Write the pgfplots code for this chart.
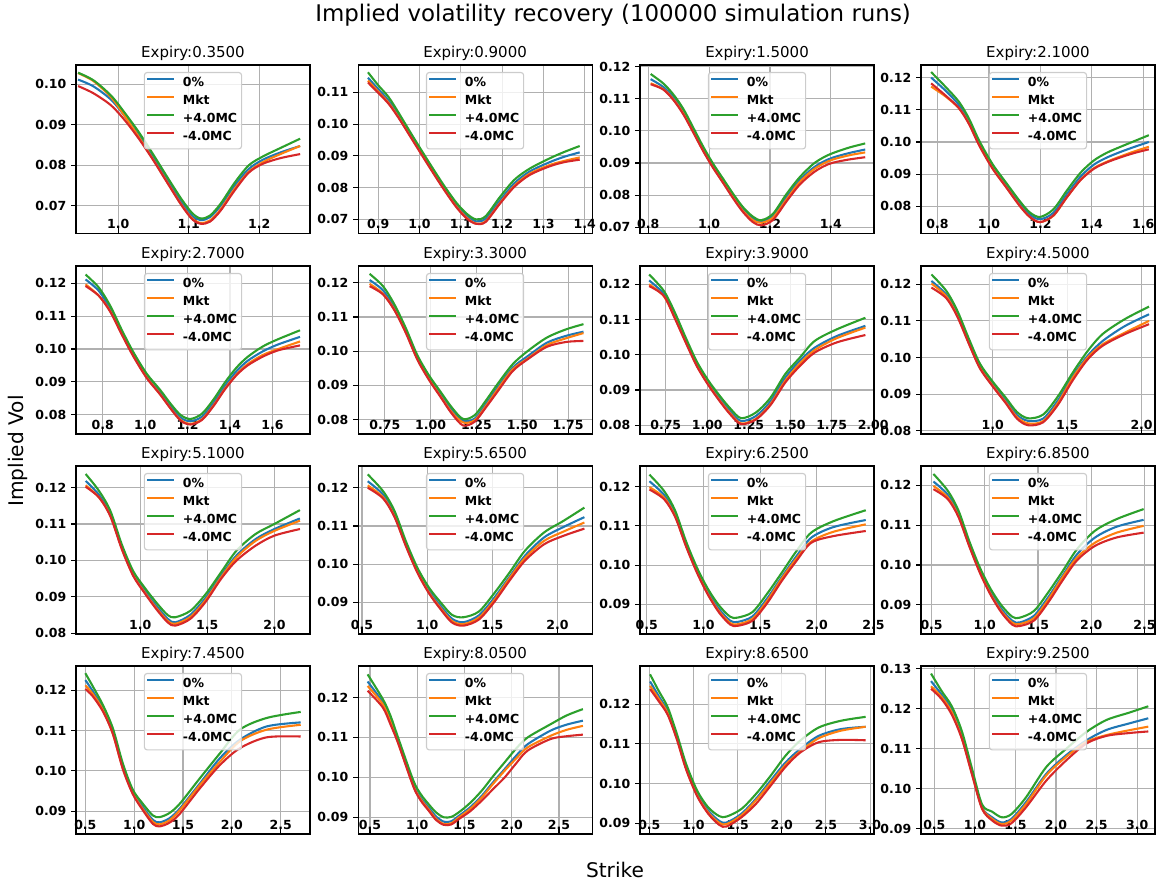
\documentclass[border=0pt]{standalone}
\usepackage{fontspec}
\setmainfont{DejaVu Sans}
\usepackage{pgfplots}
\usepackage{pgfplotstable}
\pgfplotsset{compat=1.18}

\definecolor{c0}{HTML}{1F77B4}
\definecolor{c1}{HTML}{FF7F0E}
\definecolor{c2}{HTML}{2CA02C}
\definecolor{c3}{HTML}{D62728}
\definecolor{gridgray}{HTML}{B0B0B0}
\definecolor{legframe}{HTML}{CCCCCC}

\newcommand\tickfont{\fontsize{9}{10}\selectfont\bfseries}
\newcommand\legfont{\fontsize{9}{10}\selectfont\bfseries}
\newcommand\titlefont{\fontsize{10.8}{12}\selectfont}

% columns: strike, 0% (b), Mkt (o), +4.0MC (g), -4.0MC (r)
\pgfplotstableread{
x b o g r
0.943 0.1012 0.1028 0.1029 0.0996
0.965 0.0995 0.1008 0.1010 0.0978
0.990 0.0962 0.0968 0.0972 0.0948
1.010 0.0920 0.0920 0.0928 0.0910
1.030 0.0872 0.0868 0.0880 0.0864
1.050 0.0818 0.0813 0.0826 0.0812
1.070 0.0762 0.0757 0.0770 0.0756
1.090 0.0708 0.0702 0.0716 0.0701
1.105 0.0675 0.0669 0.0682 0.0667
1.117 0.0665 0.0658 0.0669 0.0656
1.130 0.0672 0.0664 0.0676 0.0661
1.145 0.0700 0.0691 0.0705 0.0688
1.165 0.0750 0.0742 0.0757 0.0738
1.185 0.0791 0.0784 0.0800 0.0782
1.205 0.0814 0.0808 0.0822 0.0804
1.230 0.0832 0.0828 0.0843 0.0818
1.258 0.0848 0.0848 0.0866 0.0828
}\tA
\pgfplotstableread{
x b o g r
0.875 0.1146 0.1137 0.1163 0.1131
0.900 0.1110 0.1102 0.1122 0.1098
0.925 0.1074 0.1067 0.1085 0.1064
0.950 0.1026 0.1020 0.1034 0.1018
0.975 0.0973 0.0968 0.0980 0.0966
1.000 0.0920 0.0916 0.0927 0.0914
1.030 0.0858 0.0854 0.0865 0.0852
1.060 0.0798 0.0794 0.0805 0.0792
1.090 0.0744 0.0739 0.0751 0.0737
1.115 0.0710 0.0704 0.0717 0.0702
1.137 0.0694 0.0687 0.0700 0.0686
1.160 0.0702 0.0694 0.0710 0.0692
1.195 0.0760 0.0752 0.0771 0.0750
1.230 0.0814 0.0806 0.0825 0.0803
1.267 0.0851 0.0844 0.0860 0.0840
1.315 0.0880 0.0871 0.0892 0.0867
1.350 0.0897 0.0884 0.0912 0.0880
1.388 0.0911 0.0895 0.0931 0.0888
}\tB
\pgfplotstableread{
x b o g r
0.808 0.1161 0.1148 0.1177 0.1145
0.849 0.1137 0.1130 0.1148 0.1129
0.882 0.1106 0.1099 0.1114 0.1097
0.915 0.1060 0.1055 0.1069 0.1052
0.948 0.1001 0.0997 0.1010 0.0995
0.980 0.0944 0.0940 0.0952 0.0938
1.013 0.0891 0.0887 0.0898 0.0885
1.046 0.0844 0.0840 0.0851 0.0838
1.079 0.0797 0.0793 0.0804 0.0790
1.111 0.0756 0.0751 0.0763 0.0748
1.144 0.0727 0.0722 0.0733 0.0716
1.172 0.0719 0.0714 0.0722 0.0706
1.210 0.0735 0.0730 0.0742 0.0723
1.254 0.0793 0.0786 0.0803 0.0780
1.297 0.0846 0.0840 0.0855 0.0832
1.341 0.0884 0.0878 0.0896 0.0869
1.375 0.0904 0.0898 0.0917 0.0889
1.407 0.0917 0.0911 0.0931 0.0901
1.460 0.0931 0.0924 0.0948 0.0911
1.513 0.0942 0.0933 0.0961 0.0918
}\tC
\pgfplotstableread{
x b o g r
0.775 0.1200 0.1172 0.1217 0.1182
0.830 0.1160 0.1142 0.1172 0.1145
0.883 0.1115 0.1105 0.1125 0.1105
0.922 0.1063 0.1058 0.1073 0.1056
0.962 0.0995 0.0991 0.1004 0.0989
1.014 0.0923 0.0919 0.0931 0.0917
1.067 0.0865 0.0860 0.0873 0.0859
1.120 0.0808 0.0802 0.0816 0.0801
1.159 0.0774 0.0767 0.0781 0.0767
1.199 0.0760 0.0751 0.0767 0.0751
1.251 0.0780 0.0771 0.0791 0.0772
1.304 0.0839 0.0829 0.0850 0.0829
1.357 0.0893 0.0883 0.0905 0.0882
1.409 0.0930 0.0919 0.0943 0.0917
1.460 0.0952 0.0939 0.0967 0.0937
1.515 0.0970 0.0956 0.0986 0.0953
1.567 0.0985 0.0971 0.1003 0.0966
1.622 0.1000 0.0985 0.1021 0.0977
}\tD
\pgfplotstableread{
x b o g r
0.719 0.1212 0.1197 0.1227 0.1192
0.782 0.1177 0.1162 0.1187 0.1162
0.836 0.1121 0.1115 0.1131 0.1113
0.890 0.1050 0.1046 0.1058 0.1044
0.944 0.0984 0.0980 0.0991 0.0978
1.007 0.0918 0.0914 0.0925 0.0912
1.070 0.0868 0.0863 0.0876 0.0862
1.124 0.0822 0.0816 0.0830 0.0815
1.169 0.0790 0.0783 0.0798 0.0781
1.214 0.0780 0.0772 0.0787 0.0770
1.268 0.0794 0.0786 0.0803 0.0784
1.322 0.0836 0.0828 0.0846 0.0826
1.376 0.0888 0.0879 0.0898 0.0877
1.430 0.0932 0.0922 0.0943 0.0920
1.483 0.0964 0.0954 0.0976 0.0950
1.555 0.0993 0.0982 0.1008 0.0977
1.627 0.1014 0.1000 0.1030 0.0996
1.730 0.1037 0.1023 0.1057 0.1011
}\tE
\pgfplotstableread{
x b o g r
0.667 0.1208 0.1197 0.1226 0.1190
0.740 0.1178 0.1168 0.1190 0.1166
0.802 0.1127 0.1122 0.1137 0.1120
0.865 0.1059 0.1055 0.1067 0.1053
0.927 0.0982 0.0978 0.0989 0.0976
0.990 0.0923 0.0919 0.0930 0.0917
1.052 0.0875 0.0870 0.0883 0.0868
1.115 0.0828 0.0822 0.0836 0.0818
1.177 0.0797 0.0792 0.0802 0.0783
1.240 0.0803 0.0798 0.0813 0.0794
1.302 0.0846 0.0840 0.0856 0.0836
1.365 0.0894 0.0888 0.0904 0.0882
1.448 0.0952 0.0947 0.0962 0.0942
1.531 0.0986 0.0979 0.1001 0.0977
1.635 0.1025 0.1018 0.1040 0.1013
1.740 0.1045 0.1038 0.1064 0.1027
1.834 0.1057 0.1053 0.1079 0.1030
}\tF
\pgfplotstableread{
x b o g r
0.650 0.1211 0.1200 0.1228 0.1195
0.739 0.1172 0.1166 0.1181 0.1167
0.805 0.1110 0.1105 0.1120 0.1103
0.872 0.1039 0.1035 0.1047 0.1033
0.938 0.0973 0.0969 0.0980 0.0967
1.005 0.0921 0.0917 0.0928 0.0915
1.071 0.0878 0.0873 0.0886 0.0871
1.138 0.0840 0.0834 0.0848 0.0831
1.204 0.0812 0.0805 0.0820 0.0803
1.293 0.0826 0.0818 0.0836 0.0816
1.381 0.0868 0.0860 0.0878 0.0857
1.470 0.0935 0.0926 0.0945 0.0921
1.558 0.0983 0.0975 0.0992 0.0968
1.647 0.1020 0.1013 0.1039 0.1006
1.780 0.1053 0.1047 0.1072 0.1035
1.953 0.1082 0.1077 0.1105 0.1056
}\tG
\pgfplotstableread{
x b o g r
0.588 0.1209 0.1202 0.1227 0.1191
0.688 0.1172 0.1167 0.1182 0.1162
0.763 0.1118 0.1113 0.1127 0.1111
0.838 0.1045 0.1041 0.1053 0.1039
0.913 0.0977 0.0973 0.0984 0.0971
1.000 0.0927 0.0923 0.0934 0.0921
1.088 0.0882 0.0877 0.0890 0.0875
1.163 0.0843 0.0837 0.0851 0.0833
1.238 0.0827 0.0820 0.0834 0.0815
1.338 0.0833 0.0826 0.0844 0.0823
1.438 0.0883 0.0876 0.0894 0.0871
1.538 0.0950 0.0945 0.0959 0.0938
1.638 0.1005 0.1000 0.1018 0.0995
1.738 0.1045 0.1036 0.1064 0.1032
1.888 0.1086 0.1068 0.1105 0.1064
2.050 0.1118 0.1100 0.1139 0.1091
}\tH
\pgfplotstableread{
x b o g r
0.594 0.1218 0.1206 0.1237 0.1202
0.693 0.1180 0.1173 0.1191 0.1173
0.778 0.1127 0.1123 0.1136 0.1121
0.864 0.1036 0.1032 0.1043 0.1030
0.949 0.0963 0.0959 0.0970 0.0957
1.034 0.0917 0.0912 0.0925 0.0910
1.119 0.0876 0.0870 0.0885 0.0867
1.205 0.0840 0.0834 0.0850 0.0830
1.261 0.0830 0.0826 0.0844 0.0821
1.375 0.0851 0.0845 0.0862 0.0840
1.489 0.0898 0.0892 0.0908 0.0887
1.602 0.0958 0.0953 0.0967 0.0949
1.716 0.1013 0.1008 0.1026 0.0999
1.858 0.1058 0.1053 0.1072 0.1040
2.000 0.1086 0.1081 0.1100 0.1068
2.190 0.1115 0.1109 0.1138 0.1086
}\tI
\pgfplotstableread{
x b o g r
0.544 0.1217 0.1206 0.1235 0.1200
0.662 0.1182 0.1175 0.1191 0.1172
0.750 0.1130 0.1125 0.1139 0.1123
0.838 0.1052 0.1048 0.1059 0.1046
0.926 0.0983 0.0979 0.0990 0.0977
1.015 0.0930 0.0925 0.0938 0.0923
1.103 0.0891 0.0885 0.0900 0.0882
1.191 0.0857 0.0851 0.0867 0.0847
1.279 0.0848 0.0843 0.0861 0.0839
1.397 0.0866 0.0860 0.0876 0.0855
1.515 0.0912 0.0906 0.0924 0.0901
1.632 0.0967 0.0963 0.0978 0.0957
1.750 0.1022 0.1016 0.1035 0.1009
1.897 0.1070 0.1061 0.1083 0.1052
2.044 0.1097 0.1085 0.1113 0.1074
2.206 0.1123 0.1109 0.1148 0.1093
}\tJ
\pgfplotstableread{
x b o g r
0.523 0.1214 0.1199 0.1231 0.1193
0.653 0.1179 0.1172 0.1189 0.1168
0.750 0.1130 0.1125 0.1139 0.1123
0.847 0.1053 0.1049 0.1060 0.1047
0.945 0.0985 0.0981 0.0992 0.0979
1.042 0.0930 0.0925 0.0938 0.0923
1.140 0.0887 0.0881 0.0896 0.0878
1.237 0.0858 0.0852 0.0868 0.0848
1.302 0.0855 0.0849 0.0866 0.0845
1.432 0.0869 0.0863 0.0880 0.0858
1.562 0.0915 0.0909 0.0927 0.0903
1.692 0.0970 0.0966 0.0981 0.0960
1.821 0.1023 0.1017 0.1036 0.1011
1.951 0.1070 0.1060 0.1083 0.1057
2.146 0.1097 0.1085 0.1112 0.1074
2.432 0.1115 0.1104 0.1140 0.1087
}\tK
\pgfplotstableread{
x b o g r
0.517 0.1209 0.1198 0.1228 0.1190
0.652 0.1176 0.1169 0.1186 0.1165
0.753 0.1127 0.1122 0.1136 0.1120
0.855 0.1052 0.1048 0.1059 0.1046
0.956 0.0985 0.0981 0.0992 0.0979
1.057 0.0931 0.0926 0.0939 0.0924
1.159 0.0889 0.0883 0.0898 0.0880
1.260 0.0860 0.0855 0.0870 0.0850
1.328 0.0856 0.0852 0.0868 0.0847
1.463 0.0873 0.0867 0.0885 0.0861
1.598 0.0920 0.0914 0.0932 0.0907
1.733 0.0974 0.0970 0.0985 0.0962
1.868 0.1027 0.1019 0.1040 0.1012
2.037 0.1069 0.1056 0.1086 0.1048
2.240 0.1096 0.1081 0.1115 0.1069
2.493 0.1113 0.1098 0.1140 0.1081
}\tL
\pgfplotstableread{
x b o g r
0.500 0.1225 0.1212 0.1242 0.1203
0.575 0.1198 0.1191 0.1210 0.1185
0.678 0.1156 0.1152 0.1164 0.1148
0.781 0.1098 0.1092 0.1106 0.1092
0.884 0.1010 0.1006 0.1018 0.1004
0.986 0.0948 0.0944 0.0953 0.0942
1.089 0.0910 0.0905 0.0918 0.0902
1.192 0.0878 0.0873 0.0889 0.0868
1.260 0.0872 0.0867 0.0885 0.0862
1.360 0.0882 0.0877 0.0895 0.0871
1.466 0.0906 0.0902 0.0918 0.0893
1.671 0.0968 0.0964 0.0981 0.0956
1.877 0.1031 0.1022 0.1043 0.1014
2.082 0.1077 0.1073 0.1102 0.1056
2.356 0.1110 0.1102 0.1131 0.1083
2.705 0.1120 0.1114 0.1146 0.1085
}\tM
\pgfplotstableread{
x b o g r
0.475 0.1240 0.1229 0.1258 0.1217
0.636 0.1188 0.1183 0.1196 0.1175
0.716 0.1145 0.1140 0.1155 0.1133
0.797 0.1092 0.1088 0.1100 0.1086
0.959 0.0983 0.0979 0.0992 0.0977
1.040 0.0948 0.0944 0.0957 0.0941
1.120 0.0925 0.0920 0.0933 0.0917
1.200 0.0902 0.0896 0.0912 0.0893
1.281 0.0889 0.0883 0.0900 0.0881
1.360 0.0890 0.0885 0.0901 0.0882
1.443 0.0904 0.0900 0.0913 0.0896
1.560 0.0925 0.0921 0.0936 0.0915
1.684 0.0954 0.0950 0.0967 0.0942
1.800 0.0987 0.0983 0.1002 0.0970
1.926 0.1021 0.1017 0.1038 0.1000
2.050 0.1055 0.1048 0.1073 0.1036
2.168 0.1083 0.1075 0.1100 0.1067
2.410 0.1117 0.1104 0.1133 0.1096
2.580 0.1132 0.1119 0.1155 0.1103
2.753 0.1142 0.1129 0.1171 0.1107
}\tN
\pgfplotstableread{
x b o g r
0.508 0.1257 0.1246 0.1275 0.1238
0.604 0.1221 0.1214 0.1234 0.1208
0.708 0.1182 0.1177 0.1192 0.1173
0.813 0.1116 0.1112 0.1124 0.1110
0.917 0.1041 0.1037 0.1049 0.1035
1.042 0.0974 0.0970 0.0982 0.0968
1.167 0.0932 0.0927 0.0940 0.0924
1.292 0.0906 0.0901 0.0918 0.0896
1.375 0.0902 0.0898 0.0917 0.0892
1.542 0.0924 0.0920 0.0936 0.0915
1.708 0.0962 0.0958 0.0974 0.0949
1.875 0.1008 0.1002 0.1020 0.0995
2.042 0.1053 0.1047 0.1070 0.1042
2.208 0.1087 0.1081 0.1108 0.1078
2.417 0.1120 0.1114 0.1141 0.1104
2.667 0.1137 0.1133 0.1158 0.1110
2.950 0.1143 0.1143 0.1168 0.1109
}\tO
\pgfplotstableread{
x b o g r
0.459 0.1269 0.1256 0.1288 0.1250
0.590 0.1235 0.1229 0.1244 0.1224
0.715 0.1197 0.1191 0.1206 0.1185
0.840 0.1130 0.1126 0.1143 0.1124
0.964 0.1041 0.1037 0.1050 0.1035
1.088 0.0953 0.0951 0.0960 0.0949
1.212 0.0928 0.0924 0.0942 0.0920
1.330 0.0915 0.0911 0.0928 0.0907
1.450 0.0924 0.0920 0.0936 0.0913
1.630 0.0966 0.0961 0.0978 0.0953
1.880 0.1037 0.1033 0.1054 0.1020
2.128 0.1084 0.1080 0.1100 0.1071
2.376 0.1121 0.1117 0.1142 0.1113
2.624 0.1147 0.1134 0.1172 0.1132
2.900 0.1163 0.1146 0.1190 0.1139
3.137 0.1176 0.1155 0.1206 0.1143
}\tP

\pgfplotsset{
  volpanel/.style={
    scale only axis, width=168.5pt, height=121pt, anchor=north west,
    axis line style={black, line width=0.8pt},
    grid=major, major grid style={gridgray, line width=0.8pt},
    xtick align=inside, ytick align=outside, major tick length=3.5pt,
    every tick/.style={black, line width=0.8pt},
    xtick pos=bottom, ytick pos=left,
    scaled ticks=false,
    tick label style={font=\tickfont},
    /pgf/number format/assume math mode=true,
    yticklabel style={/pgf/number format/fixed, /pgf/number format/fixed zerofill, /pgf/number format/precision=2},
    xticklabel style={/pgf/number format/fixed, /pgf/number format/fixed zerofill, /pgf/number format/precision=1, anchor=base, yshift=3.2pt},
    every axis title shift=0pt,
    title style={font=\titlefont, anchor=base, yshift=5.5pt},
    legend style={at={(0.5,1)}, anchor=north, yshift=-5pt,
      draw=legframe, line width=0.8pt, fill=white, fill opacity=0.8,
      draw opacity=1, text opacity=1, rounded corners=2pt,
      font=\legfont, inner xsep=1.2pt, inner ysep=1.5pt, row sep=0pt,
      nodes={inner sep=2pt, text height=6.8pt, text depth=2.2pt},
      /tikz/every odd column/.append style={column sep=3.5pt},
      cells={anchor=west}},
    legend image code/.code={\draw[#1, line width=1.5pt] (0pt,3.2pt) -- (19.5pt,3.2pt);},
    every axis plot/.append style={line width=1.5pt, smooth},
  },
  xprec2/.style={xticklabel style={/pgf/number format/precision=2}},
}

\newcommand\volpanel[2]{%
  \begin{axis}[volpanel, #1]
    \addplot[c0] table[x=x, y=b]{#2};
    \addplot[c1] table[x=x, y=o]{#2};
    \addplot[c2] table[x=x, y=g]{#2};
    \addplot[c3] table[x=x, y=r]{#2};
    \legend{0\%, Mkt, +4.0MC, -4.0MC}
  \end{axis}}

\begin{document}
\begin{tikzpicture}
\path[use as bounding box] (0pt,0pt) rectangle (832.32pt,-635.04pt);
\node[font=\fontsize{16.5}{19}\selectfont] at (441.4pt,-10.8pt) {Implied volatility recovery (100000 simulation runs)};
\node[font=\fontsize{14.5}{17}\selectfont, rotate=90] at (13pt,-324.7pt) {Implied Vol};
\node[font=\fontsize{14.5}{17}\selectfont] at (442.8pt,-626.4pt) {Strike};

% row 1
\volpanel{at={(54.7pt,-46.8pt)}, title={Expiry:0.3500}, xmin=0.940, xmax=1.272, ymin=0.0633, ymax=0.1048,
  xtick={1.0,1.1,1.2}, ytick={0.07,0.08,0.09,0.10}}{\tA}
\volpanel{at={(257.8pt,-46.8pt)}, title={Expiry:0.9000}, xmin=0.851, xmax=1.418, ymin=0.0657, ymax=0.1186,
  xtick={0.9,1.0,1.1,1.2,1.3,1.4}, ytick={0.07,0.08,0.09,0.10,0.11}}{\tB}
\volpanel{at={(460.8pt,-46.8pt)}, title={Expiry:1.5000}, xmin=0.773, xmax=1.542, ymin=0.0682, ymax=0.1205,
  xtick={0.8,1.0,1.2,1.4}, ytick={0.07,0.08,0.09,0.10,0.11,0.12}}{\tC}
\volpanel{at={(663.1pt,-46.8pt)}, title={Expiry:2.1000}, xmin=0.7355, xmax=1.646, ymin=0.0717, ymax=0.1239,
  xtick={0.8,1.0,1.2,1.4,1.6}, ytick={0.08,0.09,0.10,0.11,0.12}}{\tD}
% row 2
\volpanel{at={(54.7pt,-191.5pt)}, title={Expiry:2.7000}, xmin=0.674, xmax=1.777, ymin=0.0741, ymax=0.1253,
  xtick={0.8,1.0,1.2,1.4,1.6}, ytick={0.08,0.09,0.10,0.11,0.12}}{\tE}
\volpanel{at={(257.8pt,-191.5pt)}, title={Expiry:3.3000}, xmin=0.604, xmax=1.881, ymin=0.0758, ymax=0.1249, xprec2,
  xtick={0.75,1.00,1.25,1.50,1.75}, ytick={0.08,0.09,0.10,0.11,0.12}}{\tF}
\volpanel{at={(460.8pt,-191.5pt)}, title={Expiry:3.9000}, xmin=0.595, xmax=2.005, ymin=0.0775, ymax=0.1252, xprec2,
  xtick={0.75,1.00,1.25,1.50,1.75,2.00}, ytick={0.08,0.09,0.10,0.11,0.12}}{\tG}
\volpanel{at={(663.1pt,-191.5pt)}, title={Expiry:4.5000}, xmin=0.518, xmax=2.09, ymin=0.0791, ymax=0.125,
  xtick={1.0,1.5,2.0}, ytick={0.08,0.09,0.10,0.11,0.12}}{\tH}
% row 3
\volpanel{at={(54.7pt,-335.5pt)}, title={Expiry:5.1000}, xmin=0.522, xmax=2.265, ymin=0.0798, ymax=0.1259,
  xtick={1.0,1.5,2.0}, ytick={0.08,0.09,0.10,0.11,0.12}}{\tI}
\volpanel{at={(257.8pt,-335.5pt)}, title={Expiry:5.6500}, xmin=0.47, xmax=2.265, ymin=0.0817, ymax=0.1257,
  xtick={0.5,1.0,1.5,2.0}, ytick={0.09,0.10,0.11,0.12}}{\tJ}
\volpanel{at={(460.8pt,-335.5pt)}, title={Expiry:6.2500}, xmin=0.44, xmax=2.505, ymin=0.0824, ymax=0.1253,
  xtick={0.5,1.0,1.5,2.0,2.5}, ytick={0.09,0.10,0.11,0.12}}{\tK}
\volpanel{at={(663.1pt,-335.5pt)}, title={Expiry:6.8500}, xmin=0.40, xmax=2.60, ymin=0.0827, ymax=0.1248,
  xtick={0.5,1.0,1.5,2.0,2.5}, ytick={0.09,0.10,0.11,0.12}}{\tL}
% row 4
\volpanel{at={(54.7pt,-479.5pt)}, title={Expiry:7.4500}, xmin=0.404, xmax=2.80, ymin=0.0843, ymax=0.126,
  xtick={0.5,1.0,1.5,2.0,2.5}, ytick={0.09,0.10,0.11,0.12}}{\tM}
\volpanel{at={(257.8pt,-479.5pt)}, title={Expiry:8.0500}, xmin=0.374, xmax=2.85, ymin=0.0858, ymax=0.1279,
  xtick={0.5,1.0,1.5,2.0,2.5}, ytick={0.09,0.10,0.11,0.12}}{\tN}
\volpanel{at={(460.8pt,-479.5pt)}, title={Expiry:8.6500}, xmin=0.394, xmax=3.045, ymin=0.0873, ymax=0.1296,
  xtick={0.5,1.0,1.5,2.0,2.5,3.0}, ytick={0.09,0.10,0.11,0.12}}{\tO}
\volpanel{at={(663.1pt,-479.5pt)}, title={Expiry:9.2500}, xmin=0.335, xmax=3.22, ymin=0.0886, ymax=0.1307,
  xtick={0.5,1.0,1.5,2.0,2.5,3.0}, ytick={0.09,0.10,0.11,0.12,0.13}}{\tP}
\end{tikzpicture}
\end{document}
